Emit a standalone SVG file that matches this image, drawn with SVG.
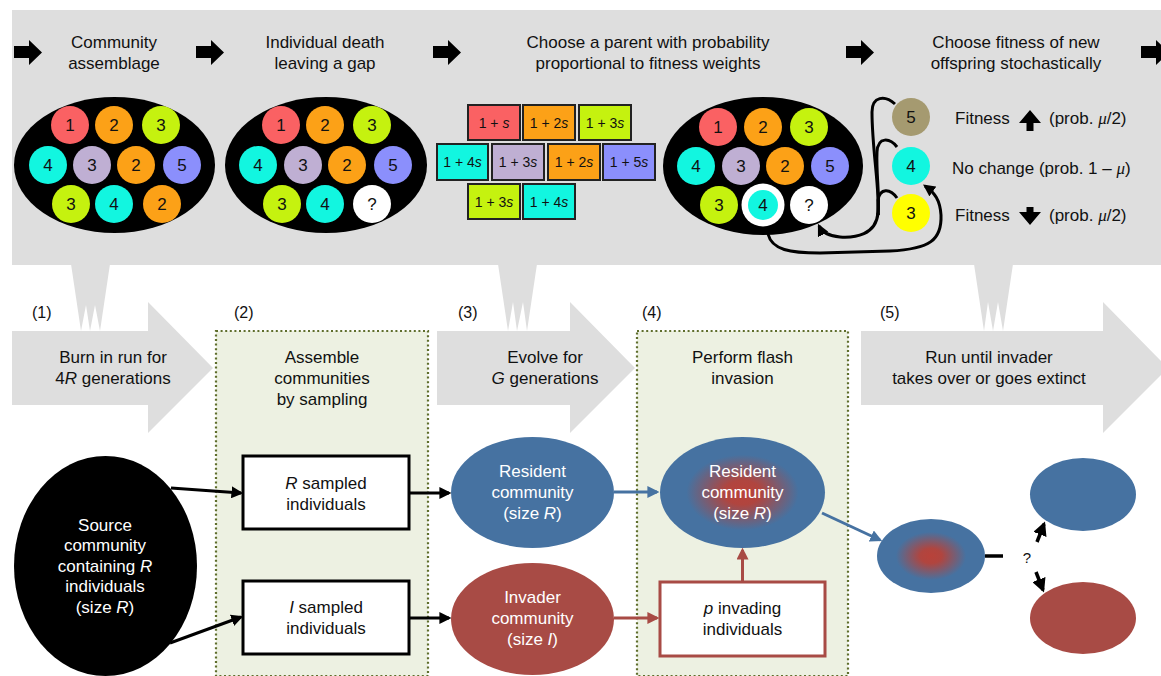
<svg xmlns="http://www.w3.org/2000/svg" width="1161" height="676" viewBox="0 0 1161 676">
<style>
.t{font-family:"Liberation Sans",Arial,Helvetica,sans-serif;font-size:17px;fill:#111;text-anchor:middle}
.w{fill:#fff}
.st{font-family:"Liberation Sans",Arial,Helvetica,sans-serif;font-size:16px;fill:#111}
.r{font-family:"Liberation Sans",Arial,Helvetica,sans-serif;font-size:14px;fill:#111;text-anchor:middle}
.fr{stroke:#222;stroke-width:2}
.gray{fill:#dedede}
.box{fill:#edf1e2;stroke:#5f6e2c;stroke-width:2.2;stroke-dasharray:2 2.6}
.blk{stroke:#000;stroke-width:3;fill:none}
.mu{font-family:"Liberation Serif","Times New Roman",serif;font-style:italic}
.c1{fill:#fa6163}.c2{fill:#fca117}.c3{fill:#c5f20f}.c4{fill:#12f6e0}.c3p{fill:#bfafd3}.c5{fill:#8b8ffc}
</style>
<defs>
<marker id="ab" viewBox="0 0 10 10" refX="8" refY="5" markerWidth="4" markerHeight="4" orient="auto"><path d="M0,0 L10,5 L0,10 z" fill="#000"/></marker>
<marker id="abl" viewBox="0 0 10 10" refX="8" refY="5" markerWidth="4" markerHeight="4" orient="auto"><path d="M0,0 L10,5 L0,10 z" fill="#4672a1"/></marker>
<marker id="ard" viewBox="0 0 10 10" refX="8" refY="5" markerWidth="4" markerHeight="4" orient="auto"><path d="M0,0 L10,5 L0,10 z" fill="#a84b45"/></marker>
<path id="sarr" d="M0,6 H15 V0 L28,12.5 L15,25 V18 H0 Z" fill="#000"/>
<radialGradient id="mix1" cx="0.5" cy="0.5" r="0.5">
<stop offset="0" stop-color="#b8423a"/><stop offset="0.22" stop-color="#b0453f"/><stop offset="0.68" stop-color="#4672a1"/><stop offset="1" stop-color="#4672a1"/>
</radialGradient>
<radialGradient id="mix2" cx="0.5" cy="0.5" r="0.5">
<stop offset="0" stop-color="#b8423a"/><stop offset="0.2" stop-color="#b0453f"/><stop offset="0.65" stop-color="#4672a1"/><stop offset="1" stop-color="#4672a1"/>
</radialGradient>
</defs>

<!-- top panel -->
<g id="top-panel">
<rect x="12" y="10" width="1149" height="255" class="gray"/>
<polygon class="gray" points="71,264 110,264 100,331 95,305 90,331 86,305 81,331"/>
<polygon class="gray" points="498,264 537,264 527,331 523,302 517,331 513,302 508,331"/>
<polygon class="gray" points="974,264 1013,264 1003,331 998,302 993,331 988,302 984,331"/>
<use href="#sarr" x="14" y="40"/>
<use href="#sarr" x="196" y="40"/>
<use href="#sarr" x="433" y="40"/>
<use href="#sarr" x="846" y="40"/>
<use href="#sarr" x="1141" y="40"/>
<text class="t" x="114" y="48">Community</text>
<text class="t" x="114" y="69">assemblage</text>
<text class="t" x="325" y="48">Individual death</text>
<text class="t" x="325" y="69">leaving a gap</text>
<text class="t" x="648" y="48">Choose a parent with probability</text>
<text class="t" x="648" y="69">proportional to fitness weights</text>
<text class="t" x="1016" y="48">Choose fitness of new</text>
<text class="t" x="1016" y="69">offspring stochastically</text>
</g>

<g id="community1">
<ellipse cx="114.5" cy="165" rx="100.5" ry="68" fill="#000"/>
<circle cx="70" cy="125" r="19" class="c1"/><circle cx="114" cy="125" r="19" class="c2"/><circle cx="161" cy="125" r="19" class="c3"/>
<circle cx="48" cy="165" r="19" class="c4"/><circle cx="92" cy="165" r="19" class="c3p"/><circle cx="136" cy="165" r="19" class="c2"/><circle cx="182" cy="165" r="19" class="c5"/>
<circle cx="71" cy="204" r="19" class="c3"/><circle cx="114" cy="204" r="19" class="c4"/><circle cx="162" cy="204" r="19" class="c2"/>
<text class="t" x="70" y="131">1</text><text class="t" x="114" y="131">2</text><text class="t" x="161" y="131">3</text>
<text class="t" x="48" y="171">4</text><text class="t" x="92" y="171">3</text><text class="t" x="136" y="171">2</text><text class="t" x="182" y="171">5</text>
<text class="t" x="71" y="210">3</text><text class="t" x="114" y="210">4</text><text class="t" x="162" y="210">2</text>
</g>

<g id="community2">
<ellipse cx="326" cy="165" rx="101" ry="68" fill="#000"/>
<circle cx="281" cy="125" r="19" class="c1"/><circle cx="325" cy="125" r="19" class="c2"/><circle cx="372" cy="125" r="19" class="c3"/>
<circle cx="258" cy="165" r="19" class="c4"/><circle cx="303" cy="165" r="19" class="c3p"/><circle cx="347" cy="165" r="19" class="c2"/><circle cx="393" cy="165" r="19" class="c5"/>
<circle cx="282" cy="204" r="19" class="c3"/><circle cx="325" cy="204" r="19" class="c4"/><circle cx="372" cy="204" r="19" fill="#fff"/>
<text class="t" x="281" y="131">1</text><text class="t" x="325" y="131">2</text><text class="t" x="372" y="131">3</text>
<text class="t" x="258" y="171">4</text><text class="t" x="303" y="171">3</text><text class="t" x="347" y="171">2</text><text class="t" x="393" y="171">5</text>
<text class="t" x="282" y="210">3</text><text class="t" x="325" y="210">4</text><text class="t" x="372" y="210">?</text>
</g>

<g id="weights">
<rect x="468" y="105" width="52" height="35" class="c1 fr"/>
<rect x="523" y="105" width="52" height="35" class="c2 fr"/>
<rect x="579" y="105" width="52" height="35" class="c3 fr"/>
<rect x="437" y="144" width="51" height="36" class="c4 fr"/>
<rect x="492" y="144" width="52" height="36" class="c3p fr"/>
<rect x="548" y="144" width="52" height="36" class="c2 fr"/>
<rect x="603" y="144" width="52" height="36" class="c5 fr"/>
<rect x="468" y="184" width="52" height="35" class="c3 fr"/>
<rect x="523" y="184" width="52" height="35" class="c4 fr"/>
<text class="r" x="494" y="127.5">1 + <tspan font-style="italic">s</tspan></text>
<text class="r" x="549" y="127.5">1 + 2<tspan font-style="italic">s</tspan></text>
<text class="r" x="605" y="127.5">1 + 3<tspan font-style="italic">s</tspan></text>
<text class="r" x="462.5" y="167">1 + 4<tspan font-style="italic">s</tspan></text>
<text class="r" x="518" y="167">1 + 3<tspan font-style="italic">s</tspan></text>
<text class="r" x="574" y="167">1 + 2<tspan font-style="italic">s</tspan></text>
<text class="r" x="629" y="167">1 + 5<tspan font-style="italic">s</tspan></text>
<text class="r" x="494" y="206.5">1 + 3<tspan font-style="italic">s</tspan></text>
<text class="r" x="549" y="206.5">1 + 4<tspan font-style="italic">s</tspan></text>
</g>

<g id="community3">
<ellipse cx="763" cy="166" rx="100" ry="69" fill="#000"/>
<circle cx="718" cy="127" r="19" class="c1"/><circle cx="763" cy="127" r="19" class="c2"/><circle cx="809" cy="127" r="19" class="c3"/>
<circle cx="696" cy="166" r="19" class="c4"/><circle cx="741" cy="166" r="19" class="c3p"/><circle cx="785" cy="166" r="19" class="c2"/><circle cx="830" cy="166" r="19" class="c5"/>
<circle cx="719" cy="205" r="19" class="c3"/><circle cx="763" cy="205" r="21.5" fill="#fff"/><circle cx="763" cy="205" r="15" class="c4"/><circle cx="809" cy="205" r="19" fill="#fff"/>
<text class="t" x="718" y="133">1</text><text class="t" x="763" y="133">2</text><text class="t" x="809" y="133">3</text>
<text class="t" x="696" y="172">4</text><text class="t" x="741" y="172">3</text><text class="t" x="785" y="172">2</text><text class="t" x="830" y="172">5</text>
<text class="t" x="719" y="211">3</text><text class="t" x="763" y="211">4</text><text class="t" x="809" y="211">?</text>
</g>

<g id="offspring">
<circle cx="911" cy="117" r="19" fill="#a59a70"/>
<circle cx="911" cy="166" r="19" class="c4"/>
<circle cx="911" cy="213" r="19" fill="#ffff00"/>
<text class="t" x="911" y="123">5</text>
<text class="t" x="911" y="172">4</text>
<text class="t" x="911" y="219">3</text>
<text class="t" x="955" y="124" style="text-anchor:start">Fitness</text>
<path d="M1019,123 L1030,110 L1041,123 H1033.5 V131 H1026.5 V123 Z" fill="#000"/>
<text class="t" x="1049" y="124" style="text-anchor:start">(prob. <tspan class="mu">μ</tspan>/2)</text>
<text class="t" x="952" y="174" style="text-anchor:start">No change (prob. 1 – <tspan class="mu">μ</tspan>)</text>
<text class="t" x="955" y="221" style="text-anchor:start">Fitness</text>
<path d="M1026.5,207 H1033.5 V212 H1041 L1030,225 L1019,212 H1026.5 Z" fill="#000"/>
<text class="t" x="1049" y="221" style="text-anchor:start">(prob. <tspan class="mu">μ</tspan>/2)</text>
</g>

<g id="top-connectors">
<path class="blk" d="M768,234 C772,250 790,253 820,253 L890,251 C930,249 942,240 941,215 C940,200 935,193 925,186" marker-end="url(#ab)"/>
<path class="blk" d="M895,104 C885,95 872,96 872,112 C872,150 880,190 878,215"/>
<path class="blk" d="M897,147 C890,138 878,136 877,152 C876,175 880,195 878,215"/>
<path class="blk" d="M897,198 C890,188 880,188 878,200 L878,215"/>
<path class="blk" d="M878,213 C876,235 855,238 840,237 C828,236 822,232 819,226" marker-end="url(#ab)"/>
</g>

<!-- bottom process -->
<g id="step-arrows">
<polygon class="gray" points="12,331 148,331 148,302 213,368 148,433 148,405 12,405"/>
<polygon class="gray" points="437,331 570,331 570,302 635,368 570,433 570,405 437,405"/>
<polygon class="gray" points="861,331 1103,331 1103,302 1168,368 1103,433 1103,405 861,405"/>
<text class="t" x="113" y="363">Burn in run for</text>
<text class="t" x="113" y="384">4<tspan font-style="italic">R</tspan> generations</text>
<text class="t" x="545" y="363">Evolve for</text>
<text class="t" x="545" y="384"><tspan font-style="italic">G</tspan> generations</text>
<text class="t" x="989" y="363">Run until invader</text>
<text class="t" x="989" y="384">takes over or goes extinct</text>
<text class="st" x="32" y="318">(1)</text>
<text class="st" x="234" y="318">(2)</text>
<text class="st" x="458" y="318">(3)</text>
<text class="st" x="642" y="318">(4)</text>
<text class="st" x="880" y="318">(5)</text>
</g>

<g id="step2-box">
<rect x="216" y="331" width="212" height="345" class="box"/>
<text class="t" x="322" y="363">Assemble</text>
<text class="t" x="322" y="384">communities</text>
<text class="t" x="322" y="405">by sampling</text>
</g>
<g id="step4-box">
<rect x="637" y="331" width="211" height="345" class="box"/>
<text class="t" x="742.5" y="363">Perform flash</text>
<text class="t" x="742.5" y="384">invasion</text>
</g>

<g id="source">
<ellipse cx="105.5" cy="566" rx="91.5" ry="110" fill="#000"/>
<text class="t w" x="105" y="531">Source</text>
<text class="t w" x="105" y="551">community</text>
<text class="t w" x="105" y="572">containing <tspan font-style="italic">R</tspan></text>
<text class="t w" x="105" y="592">individuals</text>
<text class="t w" x="105" y="613">(size <tspan font-style="italic">R</tspan>)</text>
</g>

<g id="r-sampled">
<rect x="243" y="456" width="166" height="73" fill="#fff" stroke="#000" stroke-width="3"/>
<text class="t" x="326" y="489"><tspan font-style="italic">R</tspan> sampled</text>
<text class="t" x="326" y="510">individuals</text>
</g>
<g id="i-sampled">
<rect x="243" y="581" width="166" height="73" fill="#fff" stroke="#000" stroke-width="3"/>
<text class="t" x="326" y="613"><tspan font-style="italic">I</tspan> sampled</text>
<text class="t" x="326" y="634">individuals</text>
</g>

<g id="resident">
<ellipse cx="532.5" cy="492.5" rx="81.5" ry="55.5" fill="#4672a1"/>
<text class="t w" x="532.5" y="477">Resident</text>
<text class="t w" x="532.5" y="498">community</text>
<text class="t w" x="532.5" y="519">(size <tspan font-style="italic">R</tspan>)</text>
</g>
<g id="invader">
<ellipse cx="532.5" cy="619" rx="81.5" ry="56" fill="#a84b45"/>
<text class="t w" x="532.5" y="603">Invader</text>
<text class="t w" x="532.5" y="624">community</text>
<text class="t w" x="532.5" y="645">(size <tspan font-style="italic">I</tspan>)</text>
</g>
<g id="resident-invaded">
<ellipse cx="742.5" cy="492.5" rx="82.5" ry="55.5" fill="url(#mix1)"/>
<text class="t w" x="742.5" y="477">Resident</text>
<text class="t w" x="742.5" y="498">community</text>
<text class="t w" x="742.5" y="519">(size <tspan font-style="italic">R</tspan>)</text>
</g>
<g id="p-invading">
<rect x="660" y="582" width="165" height="74" fill="#fff" stroke="#a84b45" stroke-width="3"/>
<text class="t" x="742.5" y="614"><tspan font-style="italic">p</tspan> invading</text>
<text class="t" x="742.5" y="635">individuals</text>
</g>
<g id="mixed">
<ellipse cx="931" cy="556" rx="54" ry="37" fill="url(#mix2)"/>
</g>
<g id="resident-wins">
<ellipse cx="1083" cy="494.5" rx="53" ry="36.5" fill="#4672a1"/>
</g>
<g id="invader-wins">
<ellipse cx="1083" cy="618" rx="53" ry="36" fill="#a84b45"/>
</g>
<text class="t" x="1027" y="563" style="font-size:15px">?</text>

<g id="connectors">
<line x1="171" y1="488" x2="241" y2="493" class="blk" marker-end="url(#ab)"/>
<line x1="170" y1="643" x2="241" y2="617" class="blk" marker-end="url(#ab)"/>
<line x1="409" y1="493" x2="449" y2="493" class="blk" marker-end="url(#ab)"/>
<line x1="409" y1="618" x2="449" y2="618" class="blk" marker-end="url(#ab)"/>
<line x1="614" y1="492" x2="657" y2="492" stroke="#4672a1" stroke-width="3" marker-end="url(#abl)"/>
<line x1="614" y1="618" x2="657" y2="618" stroke="#a84b45" stroke-width="3" marker-end="url(#ard)"/>
<line x1="742.5" y1="582" x2="742.5" y2="550" stroke="#a84b45" stroke-width="3" marker-end="url(#ard)"/>
<line x1="822" y1="513" x2="880" y2="540" stroke="#4672a1" stroke-width="3" marker-end="url(#abl)"/>
<line x1="985" y1="556" x2="1003" y2="556" stroke="#000" stroke-width="3.5"/>
<line x1="1037" y1="542" x2="1044" y2="524" stroke="#000" stroke-width="3.5" marker-end="url(#ab)"/>
<line x1="1036" y1="572" x2="1043" y2="590" stroke="#000" stroke-width="3.5" marker-end="url(#ab)"/>
</g>
</svg>
